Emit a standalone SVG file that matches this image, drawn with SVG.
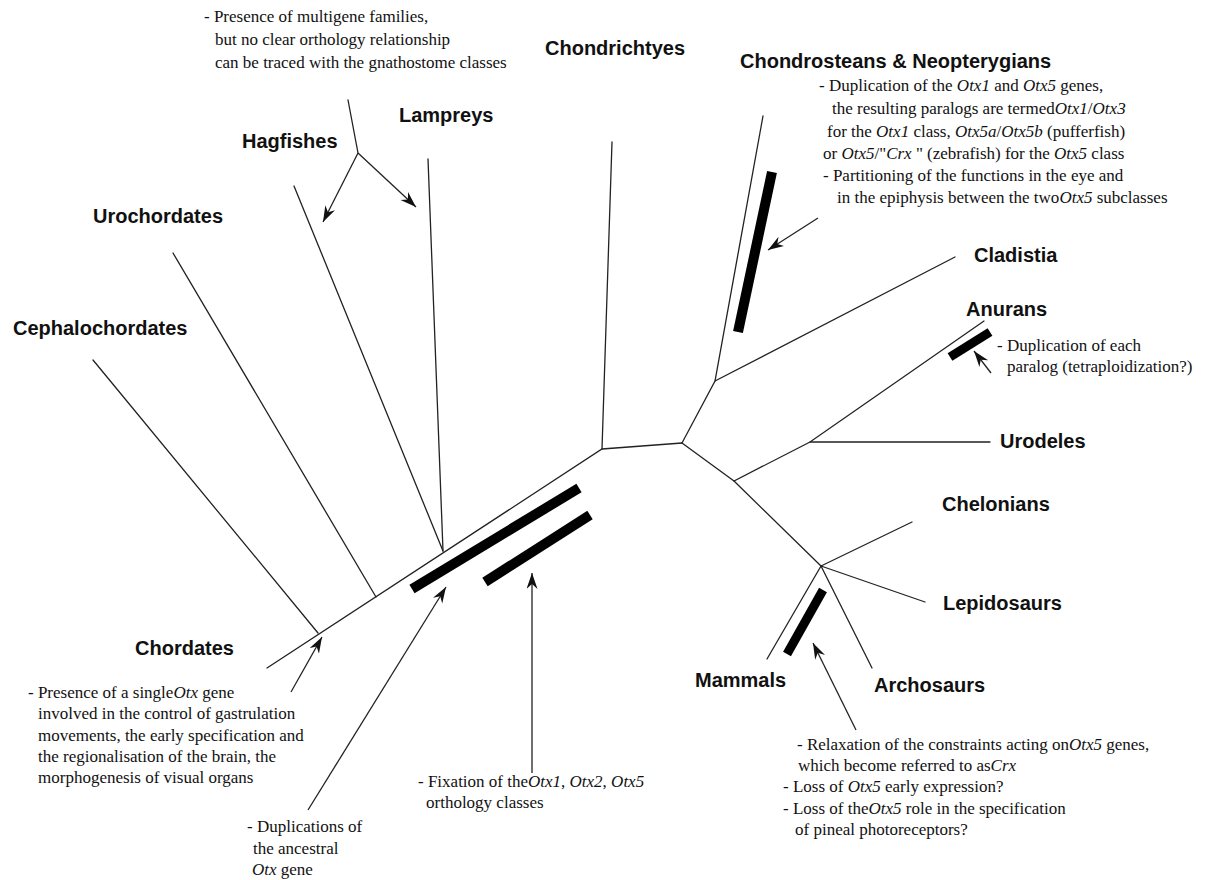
<svg xmlns="http://www.w3.org/2000/svg" width="1208" height="880" viewBox="0 0 1208 880">
<defs>
<style>
.lbl{font-family:"Liberation Sans",Arial,sans-serif;font-weight:bold;font-size:20px;fill:#111}
.ann{font-family:"Liberation Serif","Times New Roman",serif;font-size:17px;fill:#111}
.i{font-style:italic}
.br{stroke:#222;stroke-width:1.3;fill:none;stroke-linecap:round}
.bar{stroke:#000;stroke-width:10;stroke-linecap:butt}
.arr{stroke:#222;stroke-width:1.3;fill:none;marker-end:url(#ah)}
</style>
<marker id="ah" markerUnits="userSpaceOnUse" markerWidth="18" markerHeight="12" refX="16" refY="5.5" orient="auto">
<path d="M0,0 L16,5.5 L0,11 L5,5.5 z" fill="#111"/>
</marker>
</defs>
<rect width="1208" height="880" fill="#fff"/>
<g id="connectors">
<path class="br" d="M267,668 L602,449 L682,443"/>
<path class="br" d="M602,449 L612,142"/>
<path class="br" d="M318,633 L93,360"/>
<path class="br" d="M376,597 L173,253"/>
<path class="br" d="M443,551 L294,186"/>
<path class="br" d="M443,551 L428,159"/>
<path class="br" d="M682,443 L715,381 L763,116"/>
<path class="br" d="M715,381 L955,257"/>
<path class="br" d="M682,443 L734,481 L810,442 L984,321"/>
<path class="br" d="M810,442 L990,442"/>
<path class="br" d="M734,481 L821,566"/>
<path class="br" d="M821,566 L912,522"/>
<path class="br" d="M821,566 L925,602"/>
<path class="br" d="M821,566 L767,659"/>
<path class="br" d="M821,566 L872,668"/>
<path class="br" d="M348,100 L358,153"/>
<line class="arr" x1="358" y1="153" x2="323" y2="222"/>
<line class="arr" x1="358" y1="153" x2="416" y2="207"/>
<line class="arr" x1="291" y1="692" x2="322" y2="637"/>
<line class="arr" x1="308" y1="810" x2="446" y2="587"/>
<line class="arr" x1="532" y1="773" x2="532" y2="573"/>
<line class="arr" x1="856" y1="730" x2="813" y2="643"/>
<line class="arr" x1="818" y1="218" x2="768" y2="250"/>
<line class="arr" x1="991" y1="373" x2="974" y2="351"/>
</g>
<g id="bars">
<line class="bar" x1="412" y1="589" x2="579" y2="488"/>
<line class="bar" x1="485" y1="582" x2="590" y2="515"/>
<line class="bar" x1="772" y1="172" x2="738" y2="332"/>
<line class="bar" x1="950" y1="357" x2="990" y2="332" style="stroke-width:9"/>
<line class="bar" x1="823" y1="590" x2="787" y2="654" style="stroke-width:9"/>
</g>
<g id="n-chondrichtyes"><text class="lbl" x="545" y="55">Chondrichtyes</text></g>
<g id="n-chondrosteans"><text class="lbl" x="740" y="68">Chondrosteans &amp; Neopterygians</text></g>
<g id="n-lampreys"><text class="lbl" x="399" y="122">Lampreys</text></g>
<g id="n-hagfishes"><text class="lbl" x="242" y="148">Hagfishes</text></g>
<g id="n-urochordates"><text class="lbl" x="93" y="223">Urochordates</text></g>
<g id="n-cephalochordates"><text class="lbl" x="13" y="335">Cephalochordates</text></g>
<g id="n-chordates"><text class="lbl" x="135" y="655">Chordates</text></g>
<g id="n-cladistia"><text class="lbl" x="974" y="262">Cladistia</text></g>
<g id="n-anurans"><text class="lbl" x="966" y="316">Anurans</text></g>
<g id="n-urodeles"><text class="lbl" x="1000" y="448">Urodeles</text></g>
<g id="n-chelonians"><text class="lbl" x="942" y="511">Chelonians</text></g>
<g id="n-lepidosaurs"><text class="lbl" x="943" y="610">Lepidosaurs</text></g>
<g id="n-mammals"><text class="lbl" x="695" y="687">Mammals</text></g>
<g id="n-archosaurs"><text class="lbl" x="874" y="692">Archosaurs</text></g>
<g id="a-multigene">
<text class="ann" x="204" y="22">- Presence of multigene families,</text>
<text class="ann" x="215" y="45">but no clear orthology relationship</text>
<text class="ann" x="215" y="68">can be traced with the gnathostome classes</text>
</g>
<g id="a-duplication-otx1-otx5">
<text class="ann" x="819" y="91">- Duplication of the <tspan class="i">Otx1</tspan> and <tspan class="i">Otx5</tspan> genes,</text>
<text class="ann" x="832" y="114">the resulting paralogs are termed<tspan class="i">Otx1</tspan>/<tspan class="i">Otx3</tspan></text>
<text class="ann" x="827" y="137">for the <tspan class="i">Otx1</tspan> class, <tspan class="i">Otx5a</tspan>/<tspan class="i">Otx5b</tspan> (pufferfish)</text>
<text class="ann" x="823" y="159">or <tspan class="i">Otx5</tspan>/"<tspan class="i">Crx</tspan> " (zebrafish) for the <tspan class="i">Otx5</tspan> class</text>
<text class="ann" x="823" y="181">- Partitioning of the functions in the eye and</text>
<text class="ann" x="837" y="203">in the epiphysis between the two<tspan class="i">Otx5</tspan> subclasses</text>
</g>
<g id="a-tetraploidization">
<text class="ann" x="997" y="351">- Duplication of each</text>
<text class="ann" x="1007" y="372">paralog (tetraploidization?)</text>
</g>
<g id="a-single-otx">
<text class="ann" x="28" y="698">- Presence of a single<tspan class="i">Otx</tspan> gene</text>
<text class="ann" x="38" y="719">involved in the control of gastrulation</text>
<text class="ann" x="38" y="741">movements, the early specification and</text>
<text class="ann" x="38" y="762">the regionalisation of the brain, the</text>
<text class="ann" x="38" y="783">morphogenesis of visual organs</text>
</g>
<g id="a-duplications-ancestral">
<text class="ann" x="247" y="832">- Duplications of</text>
<text class="ann" x="253" y="854">the ancestral</text>
<text class="ann" x="252" y="875"><tspan class="i">Otx</tspan> gene</text>
</g>
<g id="a-fixation">
<text class="ann" x="418" y="787">- Fixation of the<tspan class="i">Otx1</tspan>, <tspan class="i">Otx2</tspan>, <tspan class="i">Otx5</tspan></text>
<text class="ann" x="426" y="808">orthology classes</text>
</g>
<g id="a-relaxation">
<text class="ann" x="797" y="750">- Relaxation of the constraints acting on<tspan class="i">Otx5</tspan> genes,</text>
<text class="ann" x="798" y="771">which become referred to as<tspan class="i">Crx</tspan></text>
<text class="ann" x="783" y="792">- Loss of <tspan class="i">Otx5</tspan> early expression?</text>
<text class="ann" x="783" y="814">- Loss of the<tspan class="i">Otx5</tspan> role in the specification</text>
<text class="ann" x="795" y="835">of pineal photoreceptors?</text>
</g>
</svg>
